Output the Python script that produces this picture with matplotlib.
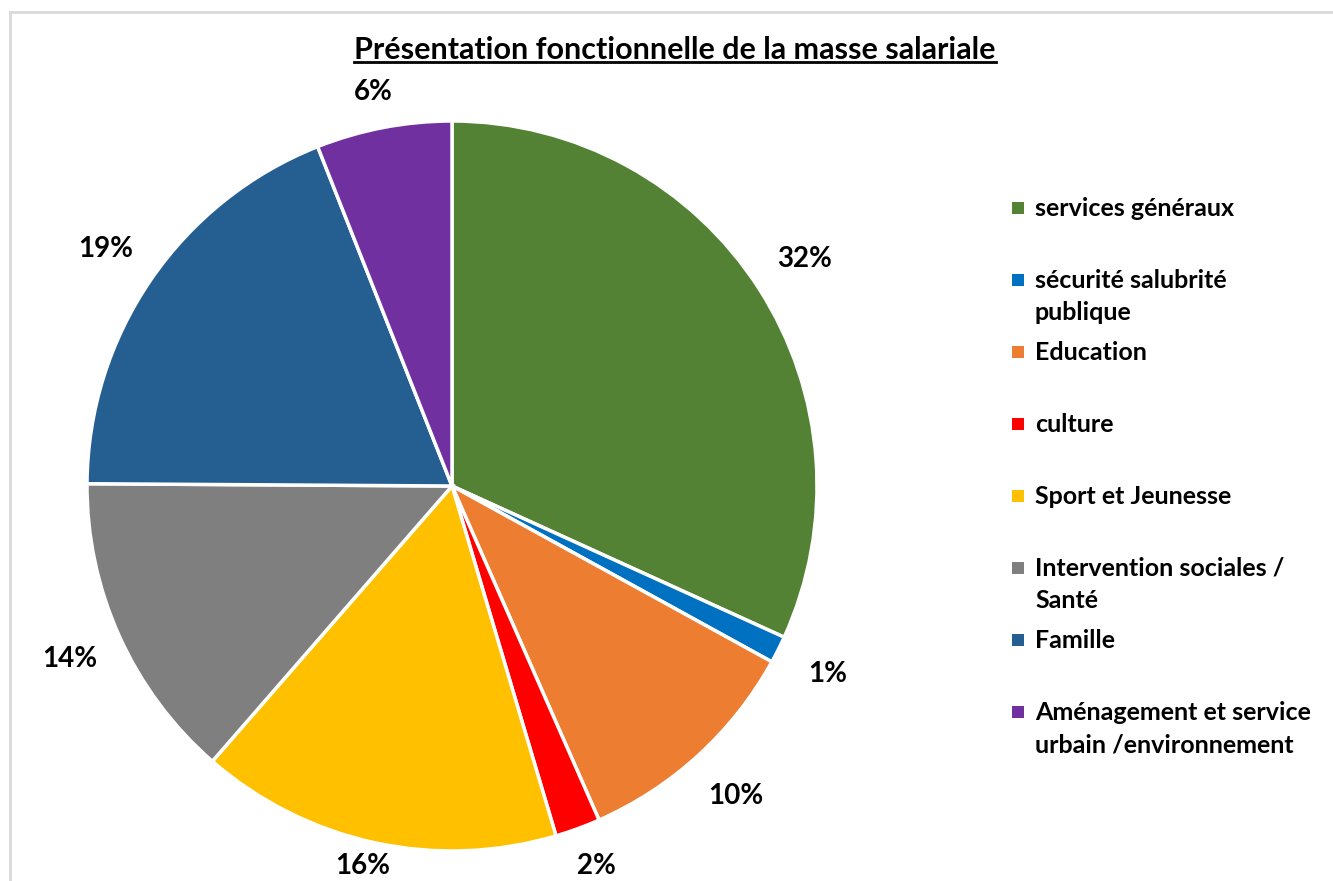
import numpy as np
import matplotlib.pyplot as plt
from matplotlib.lines import Line2D
from matplotlib.patches import Rectangle

plt.rcParams['font.family'] = ['Lato', 'DejaVu Sans']

categories = ['services généraux', 'sécurité salubrité\npublique', 'Education', 'culture',
              'Sport et Jeunesse', 'Intervention sociales /\nSanté', 'Famille',
              'Aménagement et service\nurbain /environnement']
shares = [31.8, 1.2, 10.4, 2.0, 16.0, 13.7, 18.9, 6.0]
colors = ['#548235', '#0070C0', '#ED7D31', '#FF0000', '#FFC000', '#7F7F7F', '#255E91', '#7030A0']

W, H = 1333, 881
fig = plt.figure(figsize=(W / 100, H / 100), dpi=100)

# light frame round the chart area
fig.add_artist(Line2D([10 / W, 1], [1 - 12 / H, 1 - 12 / H], color='#d9d9d9', lw=2))
fig.add_artist(Line2D([10 / W, 10 / W], [0, 1 - 12 / H], color='#d9d9d9', lw=2))

# pie axes: centre (452, 486) px, radius 365 px
cx, cy, r = 452, 486, 365
ax = fig.add_axes([(cx - r) / W, (H - cy - r) / H, 2 * r / W, 2 * r / H])
wedges, texts = ax.pie(shares, colors=colors, startangle=90, counterclock=False,
                       wedgeprops=dict(edgecolor='white', linewidth=2.5),
                       labels=['%.0f%%' % s for s in shares], labeldistance=1.15,
                       textprops=dict(fontsize=20, fontweight='bold', color='black'))
# keep the labels inside the picture, as the original does
for t in texts:
    x, y = t.get_position()
    t.set_position((x, float(np.clip(y, -1.04, 1.08))))
    t.set_ha('center')
    t.set_va('center')
ax.set_xlim(-1, 1)
ax.set_ylim(-1, 1)
ax.axis('off')

# title with underline
title = fig.text(675 / W, 1 - 50 / H, 'Présentation fonctionnelle de la masse salariale',
                 ha='center', va='center', fontsize=22, fontweight='bold')
fig.canvas.draw()
bb = title.get_window_extent().transformed(fig.transFigure.inverted())
fig.add_artist(Line2D([bb.x0, bb.x1], [bb.y0 + 0.002, bb.y0 + 0.002], color='black', lw=2))

# legend drawn by hand
y0, step, line_h = 208, 72, 33
for i, (lab, col) in enumerate(zip(categories, colors)):
    y = y0 + i * step
    fig.add_artist(Rectangle((1012 / W, 1 - (y + 6) / H), 12 / W, 12 / H,
                             facecolor=col, edgecolor='none', transform=fig.transFigure))
    for j, part in enumerate(lab.split('\n')):
        fig.text(1035 / W, 1 - (y + j * line_h) / H, part, ha='left', va='center',
                 fontsize=18, fontweight='bold')

plt.savefig('out.png', dpi=100)
